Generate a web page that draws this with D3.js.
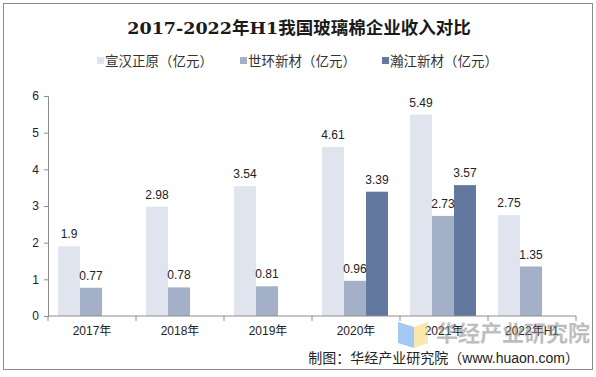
<!DOCTYPE html>
<html>
<head>
<meta charset="utf-8">
<script src="https://cdn.jsdelivr.net/npm/d3@7"></script>
<style>
  body { margin: 0; background: #fff; }
  svg text { font-family: "Liberation Sans", Arial, "Noto Sans CJK SC", sans-serif; }
</style>
</head>
<body>
<svg id="chart" width="596" height="377"></svg>
<script>
// chart data
const years = ["2017年", "2018年", "2019年", "2020年", "2021年", "2022年H1"];
const seriesNames = ["宣汉正原（亿元）", "世环新材（亿元）", "瀚江新材（亿元）"];
const xuanhan = [1.9, 2.98, 3.54, 4.61, 5.49, 2.75];
const shihuan = [0.77, 0.78, 0.81, 0.96, 2.73, 1.35];
const hanjiang = [null, null, null, 3.39, 3.57, null];
const yTicks = [0, 1, 2, 3, 4, 5, 6];

const colors = ["#dfe4ee", "#a3b0c7", "#63789e"];
const allSeries = [xuanhan, shihuan, hanjiang];

const svg = d3.select("#chart");

// outer frame
svg.append("rect")
    .attr("x", 3.5).attr("y", 3.5)
    .attr("width", 589).attr("height", 366)
    .attr("fill", "none")
    .attr("stroke", "#8c8c8c");

// title
svg.append("text")
    .attr("x", 299).attr("y", 34)
    .attr("text-anchor", "middle")
    .style("font-family", "'DejaVu Serif', 'Liberation Serif', 'Noto Sans CJK SC', serif")
    .style("font-size", "17.5px")
    .style("font-weight", "bold")
    .attr("fill", "#1a1a1a")
    .text("2017-2022年H1我国玻璃棉企业收入对比");

// legend
const legendX = [97, 240, 382];
seriesNames.forEach(function(name, i) {
    svg.append("rect")
        .attr("x", legendX[i]).attr("y", 57)
        .attr("width", 7).attr("height", 7)
        .attr("fill", colors[i]);
    svg.append("text")
        .attr("x", legendX[i] + 8).attr("y", 66)
        .style("font-size", "13.5px")
        .attr("fill", "#333")
        .text(name);
});

// scales
const x0 = d3.scaleBand().domain(years).range([48, 576]);
const x1 = d3.scaleBand().domain([0, 1, 2]).range([10, 76]);
const y = d3.scaleLinear().domain([0, 6]).range([316, 96]);

// y axis
const yAxis = svg.append("g")
    .attr("transform", "translate(48,0)")
    .call(d3.axisLeft(y).tickValues(yTicks).tickSize(4).tickFormat(d3.format("d")));
yAxis.select(".domain").attr("stroke", "#8c8c8c");
yAxis.selectAll(".tick line").attr("stroke", "#8c8c8c");
yAxis.selectAll(".tick text")
    .attr("x", -9)
    .style("font-size", "12px")
    .attr("fill", "#222");

// bars
years.forEach(function(yr, gi) {
    const g = svg.append("g").attr("transform", "translate(" + x0(yr) + ",0)");
    allSeries.forEach(function(vals, si) {
        const v = vals[gi];
        if (v === null) return;
        g.append("rect")
            .attr("x", x1(si))
            .attr("y", y(v))
            .attr("width", x1.bandwidth())
            .attr("height", y(0) - y(v))
            .attr("fill", colors[si]);
    });
    allSeries.forEach(function(vals, si) {
        const v = vals[gi];
        if (v === null) return;
        g.append("text")
            .attr("x", x1(si) + x1.bandwidth() / 2)
            .attr("y", y(v) - 8)
            .attr("text-anchor", "middle")
            .style("font-size", "12px")
            .attr("fill", "#222")
            .text(v);
    });
});

// x axis with ticks at category boundaries
const xAxisG = svg.append("g").attr("transform", "translate(0,316)");
xAxisG.append("line")
    .attr("x1", 48).attr("x2", 576)
    .attr("stroke", "#8c8c8c");
const bounds = years.map(d => x0(d)).concat([576]);
xAxisG.selectAll("line.tk").data(bounds).enter().append("line")
    .attr("class", "tk")
    .attr("x1", d => d).attr("x2", d => d)
    .attr("y1", 0).attr("y2", 5)
    .attr("stroke", "#8c8c8c");
xAxisG.selectAll("text").data(years).enter().append("text")
    .attr("x", d => x0(d) + x0.bandwidth() / 2)
    .attr("y", 19)
    .attr("text-anchor", "middle")
    .style("font-size", "12px")
    .attr("fill", "#222")
    .text(d => d);

// watermark
const wm = svg.append("g").attr("opacity", 0.55);
wm.append("path")
    .attr("d", "M398,322 L414,327 L414,348 L398,343 Z")
    .attr("fill", "#5b9bea");
wm.append("path")
    .attr("d", "M414,327 L428,322 L428,343 L414,348 Z")
    .attr("fill", "#f5d76a");
wm.append("text")
    .attr("x", 436).attr("y", 341)
    .style("font-size", "22px")
    .style("font-weight", "bold")
    .attr("fill", "#8a8a8a")
    .text("华经产业研究院");

// source note
svg.append("text")
    .attr("x", 579).attr("y", 363)
    .attr("text-anchor", "end")
    .style("font-size", "14px")
    .attr("fill", "#222")
    .text("制图：华经产业研究院（www.huaon.com）");
</script>
</body>
</html>
